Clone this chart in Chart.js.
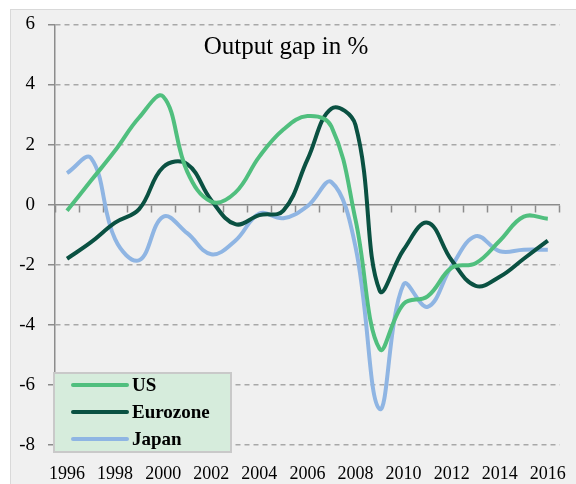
<!DOCTYPE html>
<html>
<head>
<meta charset="utf-8">
<title>Output gap</title>
<script src="https://cdn.jsdelivr.net/npm/chart.js@4.4.1/dist/chart.umd.min.js"></script>
<style>
  html, body { margin: 0; padding: 0; background: #fff; }
  .wrap { position: relative; width: 576px; height: 484px; overflow: hidden; }
  .frame { position: absolute; left: 10px; top: 9px; width: 600px; height: 500px; background: #f0f0f0; border: 1px solid #d9d9d9; }
  #gapChart { position: absolute; left: 0; top: 0; }
</style>
</head>
<body>
<div class="wrap">
  <div class="frame"></div>
  <canvas id="gapChart" width="576" height="484"></canvas>
</div>
<script>
// data
var chartTitle = 'Output gap in %';
var years = ['1996', '1997', '1998', '1999', '2000', '2001', '2002', '2003', '2004', '2005', '2006',
             '2007', '2008', '2009', '2010', '2011', '2012', '2013', '2014', '2015', '2016'];
var usGap = [-0.2, 0.8, 1.8, 2.9, 3.6, 1.1, 0.1, 0.4, 1.6, 2.5, 2.95,
             2.6, -0.5, -4.8, -3.3, -3.05, -2.1, -1.95, -1.2, -0.4, -0.47];
var euroGap = [-1.8, -1.25, -0.6, -0.15, 1.25, 1.35, 0.15, -0.65, -0.35, -0.2, 1.5,
               3.2, 2.65, -2.85, -1.5, -0.6, -1.85, -2.7, -2.4, -1.8, -1.2];
var japanGap = [1.05, 1.55, -1.15, -1.85, -0.4, -0.95, -1.65, -1.2, -0.3, -0.45, -0.05,
                0.75, -1.4, -6.8, -2.65, -3.4, -2.05, -1.05, -1.55, -1.5, -1.5];
var seriesNames = ['US', 'Eurozone', 'Japan'];
var seriesColors = ['#50bf7e', '#0a5142', '#8fb5e3'];
var yTicks = [-8, -6, -4, -2, 0, 2, 4, 6];

var serif = '"Liberation Serif", "Times New Roman", serif';
var axisGray = '#8c8c8c';

// title written inside the plot
var innerTitle = {
  id: 'innerTitle',
  afterDraw: function(chart) {
    var ctx = chart.ctx;
    ctx.save();
    ctx.font = '25px ' + serif;
    ctx.fillStyle = '#000';
    ctx.textAlign = 'center';
    ctx.textBaseline = 'middle';
    ctx.fillText(chartTitle, 286, 47);
    ctx.restore();
  }
};

// legend box in the lower left corner
var boxLegend = {
  id: 'boxLegend',
  afterDatasetsDraw: function(chart) {
    var ctx = chart.ctx;
    var x = 54, y = 373, w = 177, h = 79;
    ctx.save();
    ctx.fillStyle = '#d6ecdc';
    ctx.fillRect(x, y, w, h);
    ctx.strokeStyle = '#c9c9c9';
    ctx.lineWidth = 2;
    ctx.strokeRect(x, y, w, h);
    ctx.font = 'bold 19px ' + serif;
    ctx.textBaseline = 'middle';
    ctx.fillStyle = '#000';
    chart.data.datasets.forEach(function(ds, i) {
      var ly = y + 12 + i * 27;
      ctx.strokeStyle = ds.borderColor;
      ctx.lineWidth = 4;
      ctx.lineCap = 'round';
      ctx.beginPath();
      ctx.moveTo(x + 19, ly);
      ctx.lineTo(x + 73, ly);
      ctx.stroke();
      ctx.fillText(ds.label, x + 78, ly + 1);
    });
    ctx.restore();
  }
};

function makeSet(label, values, color) {
  return {
    label: label,
    data: values,
    borderColor: color,
    backgroundColor: color,
    borderWidth: 4,
    pointRadius: 0,
    tension: 0.4,
    fill: false
  };
}

var ctx = document.getElementById('gapChart').getContext('2d');
new Chart(ctx, {
  type: 'line',
  data: {
    labels: years,
    datasets: [
      makeSet(seriesNames[0], usGap, seriesColors[0]),
      makeSet(seriesNames[1], euroGap, seriesColors[1]),
      makeSet(seriesNames[2], japanGap, seriesColors[2])
    ]
  },
  options: {
    responsive: false,
    animation: false,
    layout: { padding: { top: 24, right: 8, left: 0, bottom: 0 } },
    plugins: {
      legend: { display: false },
      tooltip: { enabled: false }
    },
    scales: {
      x: {
        type: 'category',
        offset: true,
        grid: { display: false },
        border: { display: false },
        ticks: {
          autoSkip: false,
          maxRotation: 0,
          padding: 10,
          color: '#000',
          font: { family: serif, size: 18 },
          callback: function(val, i) {
            return i % 2 === 0 ? this.getLabelForValue(val) : '';
          }
        },
        afterFit: function(scale) { scale.height = 39; }
      },
      // zero line with the small category ticks
      x2: {
        type: 'category',
        position: { y: 0 },
        offset: true,
        grid: {
          offset: true,
          drawOnChartArea: false,
          tickLength: 7,
          tickColor: axisGray,
          tickWidth: 1.5
        },
        border: { color: axisGray, width: 1.5 },
        ticks: { display: false }
      },
      y: {
        min: yTicks[0],
        max: yTicks[yTicks.length - 1],
        afterBuildTicks: function(scale) {
          scale.ticks = yTicks.map(function(v) { return { value: v }; });
        },
        ticks: {
          padding: 13,
          color: '#000',
          font: { family: serif, size: 19 }
        },
        grid: {
          color: function(c) { return c.tick && c.tick.value === 0 ? 'rgba(0,0,0,0)' : '#a8a8a8'; },
          lineWidth: 1.5,
          tickLength: 7,
          tickColor: axisGray,
          tickWidth: 1.5
        },
        border: { color: axisGray, width: 1.5, dash: [5, 4] },
        afterFit: function(scale) { scale.width = 55; }
      }
    }
  },
  plugins: [innerTitle, boxLegend]
});
</script>
</body>
</html>
